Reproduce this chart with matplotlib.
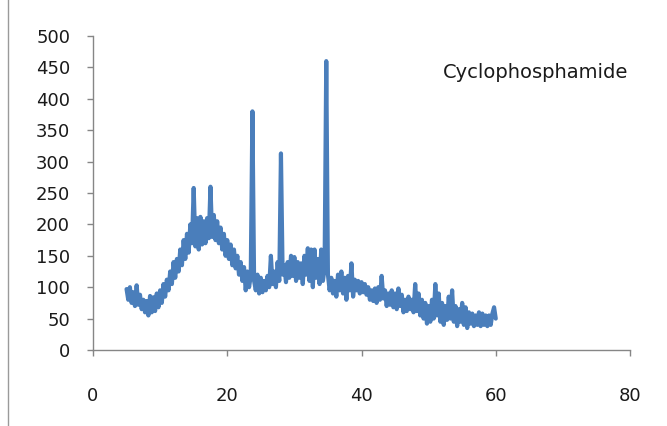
import numpy as np
import matplotlib
matplotlib.use("Agg")
import matplotlib.pyplot as plt

# Powder X-ray diffraction pattern, 2-theta scan from 5 to 60 degrees (step 0.25)
scan_start = 5.0
scan_step = 0.25
intensity = [
    97, 80, 100, 75,      # 5
    92, 70, 103, 72,      # 6
    88, 65, 80, 60,       # 7
    78, 55, 86, 60,       # 8
    84, 62, 90, 68,       # 9
    95, 75, 105, 85,      # 10
    112, 95, 125, 105,    # 11
    140, 115, 145, 125,   # 12
    160, 135, 175, 145,   # 13
    185, 155, 200, 170,   # 14
    258, 165, 210, 160,   # 15
    212, 168, 205, 170,   # 16
    210, 178, 260, 180,   # 17
    215, 175, 205, 170,   # 18
    195, 160, 185, 150,   # 19
    175, 145, 168, 135,   # 20
    160, 130, 150, 120,   # 21
    140, 110, 132, 95,    # 22
    125, 100, 118, 380,   # 23
    110, 95, 120, 90,     # 24
    115, 92, 110, 95,     # 25
    118, 100, 150, 105,   # 26
    125, 100, 140, 110,   # 27
    313, 120, 135, 108,   # 28
    140, 115, 150, 118,   # 29
    148, 110, 140, 115,   # 30
    138, 105, 150, 120,   # 31
    162, 110, 160, 100,   # 32
    160, 115, 145, 105,   # 33
    160, 110, 130, 460,   # 34
    120, 95, 115, 90,     # 35
    110, 85, 120, 95,     # 36
    125, 90, 115, 80,     # 37
    118, 95, 138, 85,     # 38
    112, 95, 110, 90,     # 39
    108, 92, 105, 88,     # 40
    100, 80, 95, 78,      # 41
    98, 75, 100, 80,      # 42
    118, 82, 95, 70,      # 43
    90, 72, 95, 68,       # 44
    90, 65, 98, 70,       # 45
    88, 60, 80, 62,       # 46
    85, 65, 80, 60,       # 47
    105, 62, 90, 55,      # 48
    80, 50, 75, 42,       # 49
    70, 45, 80, 50,       # 50
    105, 55, 90, 45,      # 51
    75, 40, 70, 48,       # 52
    85, 50, 95, 45,       # 53
    70, 38, 65, 45,       # 54
    75, 40, 68, 35,       # 55
    60, 42, 58, 38,       # 56
    55, 40, 60, 38,       # 57
    58, 40, 55, 38,       # 58
    55, 40, 58, 68,       # 59
    50,                   # 60
]
two_theta = scan_start + scan_step * np.arange(len(intensity))

x_ticks = [0, 20, 40, 60, 80]
y_ticks = [0, 50, 100, 150, 200, 250, 300, 350, 400, 450, 500]
sample_name = "Cyclophosphamide"

W, H = 667, 426
fig = plt.figure(figsize=(W / 100, H / 100), dpi=100)
fig.patch.set_facecolor("white")

# plot area in pixel terms: x 93..630, y 36..350
ax = fig.add_axes([93 / W, 1 - 350 / H, (630 - 93) / W, (350 - 36) / H])
ax.plot(two_theta, intensity, color="#4A7EBB", lw=3.0,
        solid_joinstyle="round", solid_capstyle="round")

ax.set_xlim(0, 80)
ax.set_ylim(0, 500)
ax.set_xticks(x_ticks)
ax.set_yticks(y_ticks)

axis_grey = "#868686"
for side in ("top", "right"):
    ax.spines[side].set_visible(False)
for side in ("left", "bottom"):
    ax.spines[side].set_color(axis_grey)
    ax.spines[side].set_linewidth(1.0)

ax.tick_params(axis="both", colors=axis_grey, labelcolor="#1a1a1a",
               direction="out", length=4.5, width=1.0, labelsize=13)
ax.tick_params(axis="x", pad=22)
ax.tick_params(axis="y", pad=12)

fig.text(443 / W, 1 - 72 / H, sample_name, fontsize=14, color="#1a1a1a",
         ha="left", va="center")

# chart frame edge on the left
fig.add_artist(plt.Line2D([8 / W, 8 / W], [0, 1], transform=fig.transFigure,
                          color="#9a9a9a", lw=1.0))

fig.savefig("out.png", dpi=100)
